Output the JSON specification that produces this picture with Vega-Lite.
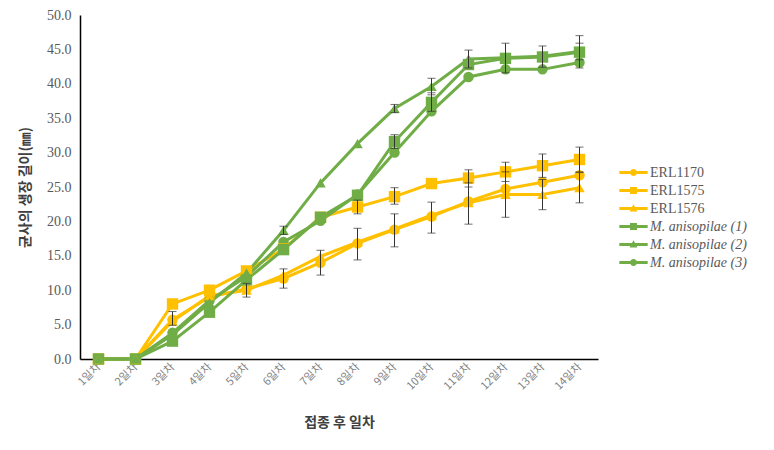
{
  "$schema": "https://vega.github.io/schema/vega-lite/v6.json",
  "autosize": {"type": "none"},
  "padding": {"left": 80, "top": 15, "right": 176, "bottom": 91},
  "width": 518,
  "height": 344,
  "background": "white",
  "config": {"view": {"stroke": null}},
  "data": {"values": [
    {"day": "1일차", "series": "ERL1170", "value": 0},
    {"day": "2일차", "series": "ERL1170", "value": 0},
    {"day": "3일차", "series": "ERL1170", "value": 5.7, "lo": 4.9, "hi": 6.9},
    {"day": "4일차", "series": "ERL1170", "value": 9.0},
    {"day": "5일차", "series": "ERL1170", "value": 10.2, "lo": 9.0, "hi": 11.0},
    {"day": "6일차", "series": "ERL1170", "value": 11.7, "lo": 10.3, "hi": 13.1},
    {"day": "7일차", "series": "ERL1170", "value": 14.0, "lo": 12.2, "hi": 15.8},
    {"day": "8일차", "series": "ERL1170", "value": 16.8, "lo": 14.4, "hi": 19.0},
    {"day": "9일차", "series": "ERL1170", "value": 18.8, "lo": 16.3, "hi": 21.1},
    {"day": "10일차", "series": "ERL1170", "value": 20.7, "lo": 18.3, "hi": 22.8},
    {"day": "11일차", "series": "ERL1170", "value": 22.9},
    {"day": "12일차", "series": "ERL1170", "value": 24.7},
    {"day": "13일차", "series": "ERL1170", "value": 25.7},
    {"day": "14일차", "series": "ERL1170", "value": 26.7},
    {"day": "1일차", "series": "ERL1575", "value": 0},
    {"day": "2일차", "series": "ERL1575", "value": 0},
    {"day": "3일차", "series": "ERL1575", "value": 8.0},
    {"day": "4일차", "series": "ERL1575", "value": 10.0},
    {"day": "5일차", "series": "ERL1575", "value": 12.8},
    {"day": "6일차", "series": "ERL1575", "value": 16.0},
    {"day": "7일차", "series": "ERL1575", "value": 20.6},
    {"day": "8일차", "series": "ERL1575", "value": 22.1, "lo": 21.1, "hi": 23.1},
    {"day": "9일차", "series": "ERL1575", "value": 23.6, "lo": 22.5, "hi": 24.9},
    {"day": "10일차", "series": "ERL1575", "value": 25.5},
    {"day": "11일차", "series": "ERL1575", "value": 26.3, "lo": 25.0, "hi": 27.5},
    {"day": "12일차", "series": "ERL1575", "value": 27.2, "lo": 25.8, "hi": 28.6},
    {"day": "13일차", "series": "ERL1575", "value": 28.1, "lo": 26.4, "hi": 29.8},
    {"day": "14일차", "series": "ERL1575", "value": 29.0, "lo": 27.2, "hi": 30.8},
    {"day": "1일차", "series": "ERL1576", "value": 0},
    {"day": "2일차", "series": "ERL1576", "value": 0},
    {"day": "3일차", "series": "ERL1576", "value": 5.5},
    {"day": "4일차", "series": "ERL1576", "value": 9.2},
    {"day": "5일차", "series": "ERL1576", "value": 10.0},
    {"day": "6일차", "series": "ERL1576", "value": 12.2},
    {"day": "7일차", "series": "ERL1576", "value": 14.9},
    {"day": "8일차", "series": "ERL1576", "value": 17.0},
    {"day": "9일차", "series": "ERL1576", "value": 18.9},
    {"day": "10일차", "series": "ERL1576", "value": 20.9},
    {"day": "11일차", "series": "ERL1576", "value": 22.7, "lo": 19.6, "hi": 25.6},
    {"day": "12일차", "series": "ERL1576", "value": 23.9, "lo": 20.6, "hi": 27.2},
    {"day": "13일차", "series": "ERL1576", "value": 23.9, "lo": 21.7, "hi": 26.1},
    {"day": "14일차", "series": "ERL1576", "value": 24.9, "lo": 22.7, "hi": 27.1},
    {"day": "1일차", "series": "M. anisopilae (1)", "value": 0},
    {"day": "2일차", "series": "M. anisopilae (1)", "value": 0},
    {"day": "3일차", "series": "M. anisopilae (1)", "value": 2.6},
    {"day": "4일차", "series": "M. anisopilae (1)", "value": 6.8},
    {"day": "5일차", "series": "M. anisopilae (1)", "value": 11.5},
    {"day": "6일차", "series": "M. anisopilae (1)", "value": 15.9},
    {"day": "7일차", "series": "M. anisopilae (1)", "value": 20.6},
    {"day": "8일차", "series": "M. anisopilae (1)", "value": 23.8},
    {"day": "9일차", "series": "M. anisopilae (1)", "value": 31.6, "lo": 30.6, "hi": 32.6},
    {"day": "10일차", "series": "M. anisopilae (1)", "value": 37.3, "lo": 36.0, "hi": 38.7},
    {"day": "11일차", "series": "M. anisopilae (1)", "value": 42.8},
    {"day": "12일차", "series": "M. anisopilae (1)", "value": 43.7, "lo": 41.6, "hi": 45.9},
    {"day": "13일차", "series": "M. anisopilae (1)", "value": 43.9, "lo": 42.4, "hi": 45.5},
    {"day": "14일차", "series": "M. anisopilae (1)", "value": 44.6, "lo": 42.3, "hi": 47.0},
    {"day": "1일차", "series": "M. anisopilae (2)", "value": 0},
    {"day": "2일차", "series": "M. anisopilae (2)", "value": 0},
    {"day": "3일차", "series": "M. anisopilae (2)", "value": 3.5},
    {"day": "4일차", "series": "M. anisopilae (2)", "value": 8.2},
    {"day": "5일차", "series": "M. anisopilae (2)", "value": 12.5},
    {"day": "6일차", "series": "M. anisopilae (2)", "value": 18.7, "lo": 18.1, "hi": 19.3},
    {"day": "7일차", "series": "M. anisopilae (2)", "value": 25.6},
    {"day": "8일차", "series": "M. anisopilae (2)", "value": 31.3},
    {"day": "9일차", "series": "M. anisopilae (2)", "value": 36.4, "lo": 35.8, "hi": 37.0},
    {"day": "10일차", "series": "M. anisopilae (2)", "value": 39.6, "lo": 38.4, "hi": 40.8},
    {"day": "11일차", "series": "M. anisopilae (2)", "value": 43.6, "lo": 42.3, "hi": 44.9},
    {"day": "12일차", "series": "M. anisopilae (2)", "value": 43.8},
    {"day": "13일차", "series": "M. anisopilae (2)", "value": 44.0},
    {"day": "14일차", "series": "M. anisopilae (2)", "value": 44.7, "lo": 43.5, "hi": 45.9},
    {"day": "1일차", "series": "M. anisopilae (3)", "value": 0},
    {"day": "2일차", "series": "M. anisopilae (3)", "value": 0},
    {"day": "3일차", "series": "M. anisopilae (3)", "value": 3.8},
    {"day": "4일차", "series": "M. anisopilae (3)", "value": 8.5},
    {"day": "5일차", "series": "M. anisopilae (3)", "value": 12.0},
    {"day": "6일차", "series": "M. anisopilae (3)", "value": 17.0},
    {"day": "7일차", "series": "M. anisopilae (3)", "value": 20.1},
    {"day": "8일차", "series": "M. anisopilae (3)", "value": 23.9},
    {"day": "9일차", "series": "M. anisopilae (3)", "value": 30.0},
    {"day": "10일차", "series": "M. anisopilae (3)", "value": 36.0},
    {"day": "11일차", "series": "M. anisopilae (3)", "value": 41.0},
    {"day": "12일차", "series": "M. anisopilae (3)", "value": 42.1},
    {"day": "13일차", "series": "M. anisopilae (3)", "value": 42.1},
    {"day": "14일차", "series": "M. anisopilae (3)", "value": 43.1}
  ]},
  "encoding": {
    "x": {
      "field": "day", "type": "ordinal", "sort": null,
      "scale": {"type": "point", "padding": 0.5},
      "axis": {
        "title": "접종 후 일차",
        "titleFont": "Noto Sans CJK KR", "titleFontSize": 14, "titleFontWeight": "bold", "titleColor": "#404040",
        "titlePadding": 24,
        "labelAngle": -45, "labelAlign": "right", "labelBaseline": "middle",
        "labelFont": "Noto Sans CJK KR", "labelFontSize": 11, "labelColor": "#7f7f7f", "labelPadding": 6,
        "ticks": false, "domainColor": "#000000", "domainWidth": 1.5, "grid": false
      }
    },
    "y": {
      "field": "value", "type": "quantitative",
      "scale": {"domain": [0, 50], "nice": false},
      "axis": {
        "title": "균사의 생장 길이(㎜)",
        "titleFont": "Noto Sans CJK KR", "titleFontSize": 14, "titleFontWeight": "bold", "titleColor": "#404040",
        "titlePadding": 14,
        "values": [0, 5, 10, 15, 20, 25, 30, 35, 40, 45, 50], "format": ".1f",
        "labelFont": "Liberation Serif", "labelFontSize": 14, "labelColor": "#595959", "labelPadding": 9,
        "ticks": false, "domainColor": "#000000", "domainWidth": 1.5, "grid": false
      }
    }
  },
  "layer": [
    {
      "encoding": {
        "color": {"field": "series", "type": "nominal",
          "scale": {"domain": ["ERL1170", "ERL1575", "ERL1576", "M. anisopilae (1)", "M. anisopilae (2)", "M. anisopilae (3)"],
                    "range": ["#FFC000", "#FFC000", "#FFC000", "#70AD47", "#70AD47", "#70AD47"]},
          "legend": {
            "title": null, "orient": "none", "legendX": 543, "legendY": 147,
            "symbolSize": 441, "rowPadding": 0,
            "labelFont": "Liberation Serif", "labelFontSize": 14, "labelColor": "#595959", "labelOffset": 6,
            "encode": {
              "symbols": {"update": {
                "shape": {"signal": "datum.value == 'ERL1575' || datum.value == 'M. anisopilae (1)' ? 'M-1.35,-0.14H1.35V0.14H-1.35Z M-0.33,-0.33H0.33V0.33H-0.33Z' : (datum.value == 'ERL1576' || datum.value == 'M. anisopilae (2)' ? 'M-1.35,-0.14H1.35V0.14H-1.35Z M0,-0.4L0.38,0.28L-0.38,0.28Z' : 'M-1.35,-0.14H1.35V0.14H-1.35Z M-0.33,0A0.33,0.33,0,1,1,0.33,0A0.33,0.33,0,1,1,-0.33,0Z')"},
                "strokeWidth": {"value": 0},
                "opacity": {"value": 1}
              }},
              "labels": {"update": {
                "fontStyle": {"signal": "indexof(datum.label, 'M.') == 0 ? 'italic' : 'normal'"}
              }}
            }
          }}
      },
      "layer": [
        {
          "mark": {"type": "line", "strokeWidth": 3},
          "encoding": {"detail": {"field": "series"}}
        },
        {
          "transform": [{"filter": {"field": "series", "oneOf": ["ERL1170", "M. anisopilae (3)"]}}],
          "mark": {"type": "point", "shape": "circle", "filled": true, "opacity": 1, "size": 110}
        },
        {
          "transform": [{"filter": {"field": "series", "oneOf": ["ERL1575", "M. anisopilae (1)"]}}],
          "mark": {"type": "point", "shape": "square", "filled": true, "opacity": 1, "size": 130}
        },
        {
          "transform": [{"filter": {"field": "series", "oneOf": ["ERL1576", "M. anisopilae (2)"]}}],
          "mark": {"type": "point", "shape": "triangle-up", "filled": true, "opacity": 1, "size": 110}
        }
      ]
    },
    {
      "mark": {"type": "errorbar", "ticks": {"size": 8, "color": "#333333", "strokeWidth": 1}, "rule": {"color": "#333333", "strokeWidth": 1}},
      "encoding": {
        "y": {"field": "lo", "type": "quantitative"},
        "y2": {"field": "hi"}
      }
    }
  ]
}
